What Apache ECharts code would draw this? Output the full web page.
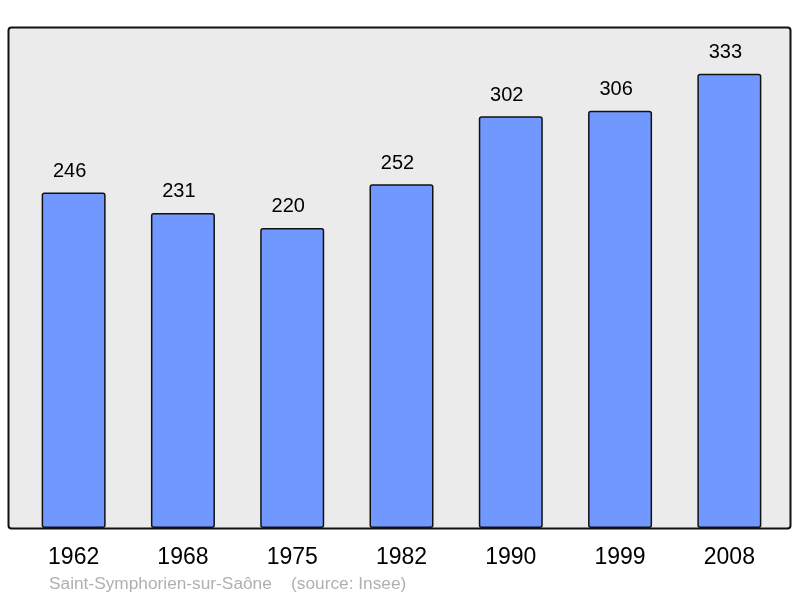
<!DOCTYPE html>
<html><head><meta charset="utf-8">
<script src="https://cdn.jsdelivr.net/npm/echarts@6/dist/echarts.min.js"></script>
<style>html,body{margin:0;padding:0;background:#fff}#c{width:800px;height:598px}</style>
</head><body><div id="c"></div>
<script>
const years = ['1962','1968','1975','1982','1990','1999','2008'];
const population = [246,231,220,252,302,306,333];
const footer = 'Saint-Symphorien-sur-Saône    (source: Insee)';

const chart = echarts.init(document.getElementById('c'), null, {renderer:'canvas'});
chart.setOption({
  animation:false,
  backgroundColor:'#fff',
  textStyle:{fontFamily:'Liberation Sans'},
  graphic:[
    {type:'rect', z:-10, shape:{x:8.5,y:27.5,width:782,height:501,r:3},
     style:{fill:'#ebebeb',stroke:'#111',lineWidth:2}},
    {type:'text', left:49, top:576, style:{text:footer, fill:'#b0b0b0', font:'17.3px "Liberation Sans"'}}
  ],
  grid:{left:19, width:765, top:27.5, bottom:70},
  xAxis:{type:'category', data:years,
    axisLine:{show:false}, axisTick:{show:false},
    axisLabel:{color:'#000', fontSize:23, margin:18, fontFamily:'Liberation Sans'}},
  yAxis:{type:'value', min:0, max:367, show:false, splitLine:{show:false}},
  series:[{type:'bar', data:population, barWidth:64,
    itemStyle:{color:'#7098ff', borderColor:'#111', borderWidth:1.5, borderRadius:2},
    label:{show:true, position:'top', distance:11, offset:[-4,0], color:'#000', fontSize:20, fontFamily:'Liberation Sans'}}]
});
</script></body></html>
